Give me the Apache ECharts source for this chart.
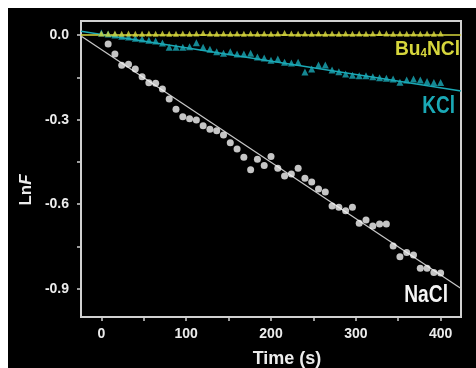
<!DOCTYPE html>
<html><head><meta charset="utf-8">
<script src="https://cdn.jsdelivr.net/npm/echarts@6/dist/echarts.min.js"></script>
<style>
html,body{margin:0;padding:0;background:#fff;}
#c{position:absolute;left:8px;top:8px;width:468px;height:360px;background:#000;}
</style></head>
<body><div id="c"></div>
<script>
// ---- data ----
var timesAll = [0,8,16,24,32,40,48,56,64,72,80,88,96,104,112,120,128,136,144,152,160,168,176,184,192,200,208,216,224,232,240,248,256,264,272,280,288,296,304,312,320,328,336,344,352,360,368,376,384,392,400];
var timesNaCl = [8,16,24,32,40,48,56,64,72,80,88,96,104,112,120,128,136,144,152,160,168,176,184,192,200,208,216,224,232,240,248,256,264,272,280,288,296,304,312,320,328,336,344,352,360,368,376,384,392,400];
var bu4nclValues = [0.006,0.005,0.006,0.005,0.006,0.005,0.005,0.006,0.005,0.006,0.005,0.005,0.006,0.005,0.006,0.007,0.006,0.005,0.006,0.005,0.006,0.005,0.006,0.005,0.006,0.005,0.006,0.007,0.006,0.005,0.006,0.005,0.006,0.005,0.006,0.005,0.006,0.005,0.006,0.005,0.006,0.007,0.006,0.005,0.006,0.005,0.006,0.005,0.006,0.005,0.006];
var kclValues = [0.007,0.004,0.000,-0.004,-0.007,-0.011,-0.014,-0.018,-0.021,-0.028,-0.043,-0.043,-0.043,-0.041,-0.027,-0.043,-0.050,-0.059,-0.064,-0.059,-0.067,-0.067,-0.064,-0.078,-0.081,-0.089,-0.085,-0.096,-0.099,-0.096,-0.131,-0.120,-0.106,-0.106,-0.124,-0.130,-0.138,-0.142,-0.144,-0.144,-0.148,-0.151,-0.153,-0.156,-0.167,-0.159,-0.156,-0.159,-0.165,-0.168,-0.168];
var naclValues = [-0.032,-0.067,-0.107,-0.103,-0.120,-0.148,-0.169,-0.171,-0.191,-0.227,-0.263,-0.290,-0.297,-0.301,-0.322,-0.334,-0.339,-0.354,-0.382,-0.404,-0.433,-0.478,-0.440,-0.463,-0.431,-0.472,-0.500,-0.493,-0.472,-0.508,-0.521,-0.546,-0.557,-0.606,-0.611,-0.623,-0.611,-0.667,-0.656,-0.677,-0.670,-0.670,-0.748,-0.786,-0.771,-0.780,-0.827,-0.827,-0.842,-0.844];
var fitTimes = [-24, 424];
var bu4nclFit = [0, 0];
var kclFit = [0.014, -0.198];
var naclFit = [-0.003, -0.899];
var xTickLabels = [0,100,200,300,400];
var xTicks = [0,50,100,150,200,250,300,350,400];
var yTickLabels = [0,-0.3,-0.6,-0.9];
var yTicks = [0,-0.15,-0.3,-0.45,-0.6,-0.75,-0.9];

function pairs(xs, ys){ return xs.map(function(x,i){return [x, ys[i]];}); }

var FONT = '"Liberation Sans", Arial, sans-serif';
var axisCol = '#d0d0d0';
var textCol = '#ececec';
var yellow = '#d6d63c';
var cyan = '#1aa9b6';

var chart = echarts.init(document.getElementById('c'), null, {renderer:'canvas'});
chart.setOption({
  backgroundColor: '#000',
  animation: false,
  grid: {left:73, right:15, top:13, bottom:51, show:true, borderColor:axisCol, borderWidth:2, backgroundColor:'transparent'},
  xAxis: {
    type:'value', min:-24, max:424,
    axisLine:{show:false, onZero:false},
    splitLine:{show:false},
    axisTick:{show:true, inside:false, length:4, customValues:xTicks, lineStyle:{color:axisCol, width:1.5}},
    axisLabel:{customValues:xTickLabels, color:textCol, fontFamily:FONT, fontWeight:'bold', fontSize:14, margin:10}
  },
  yAxis: {
    type:'value', min:-1.0, max:0.05,
    axisLine:{show:false, onZero:false},
    splitLine:{show:false},
    axisTick:{show:true, inside:false, length:4, customValues:yTicks, lineStyle:{color:axisCol, width:1.5}},
    axisLabel:{customValues:yTickLabels, color:textCol, fontFamily:FONT, fontWeight:'bold', fontSize:14, margin:12,
      formatter:function(v){return v.toFixed(1);}}
  },
  series: [
    {type:'line', data:pairs(fitTimes, naclFit), symbol:'none', lineStyle:{color:'#c8c8c8', width:1.2}, z:1},
    {type:'line', data:pairs(fitTimes, kclFit), symbol:'none', lineStyle:{color:cyan, width:1.5}, z:1},
    {type:'line', data:pairs(fitTimes, bu4nclFit), symbol:'none', lineStyle:{color:yellow, width:1.5}, z:1},
    {type:'scatter', data:pairs(timesNaCl, naclValues), symbol:'circle', symbolSize:7, itemStyle:{color:'#f6f6f6'}, z:3},
    {type:'scatter', data:pairs(timesAll, kclValues), symbol:'triangle', symbolSize:7, itemStyle:{color:cyan}, z:4},
    {type:'scatter', data:pairs(timesAll, bu4nclValues), symbol:'triangle', symbolSize:6, itemStyle:{color:yellow}, z:5}
  ],
  graphic: [
    {type:'text', x:452, y:41, z:10, scaleX:0.96, style:{text:'Bu{s|4}NCl', fill:yellow, font:'bold 20px '+FONT, align:'right', verticalAlign:'middle',
      rich:{s:{fill:yellow, font:'bold 12px '+FONT, padding:[10,0,0,0]}}}},
    {type:'text', x:447, y:98, z:10, scaleX:0.79, style:{text:'KCl', fill:cyan, font:'bold 24px '+FONT, align:'right', verticalAlign:'middle'}},
    {type:'text', x:440, y:287, z:10, scaleX:0.8, style:{text:'NaCl', fill:'#f4f4f4', font:'bold 24px '+FONT, align:'right', verticalAlign:'middle'}},
    {type:'text', x:279, y:351, z:10, style:{text:'Time (s)', fill:textCol, font:'bold 18px '+FONT, align:'center', verticalAlign:'middle'}},
    {type:'text', x:18, y:182, rotation:Math.PI/2, z:10, style:{text:'Ln{i|F}', fill:textCol, font:'bold 17px '+FONT, align:'center', verticalAlign:'middle',
      rich:{i:{fill:textCol, font:'italic bold 17px '+FONT}}}}
  ]
});
</script></body></html>
